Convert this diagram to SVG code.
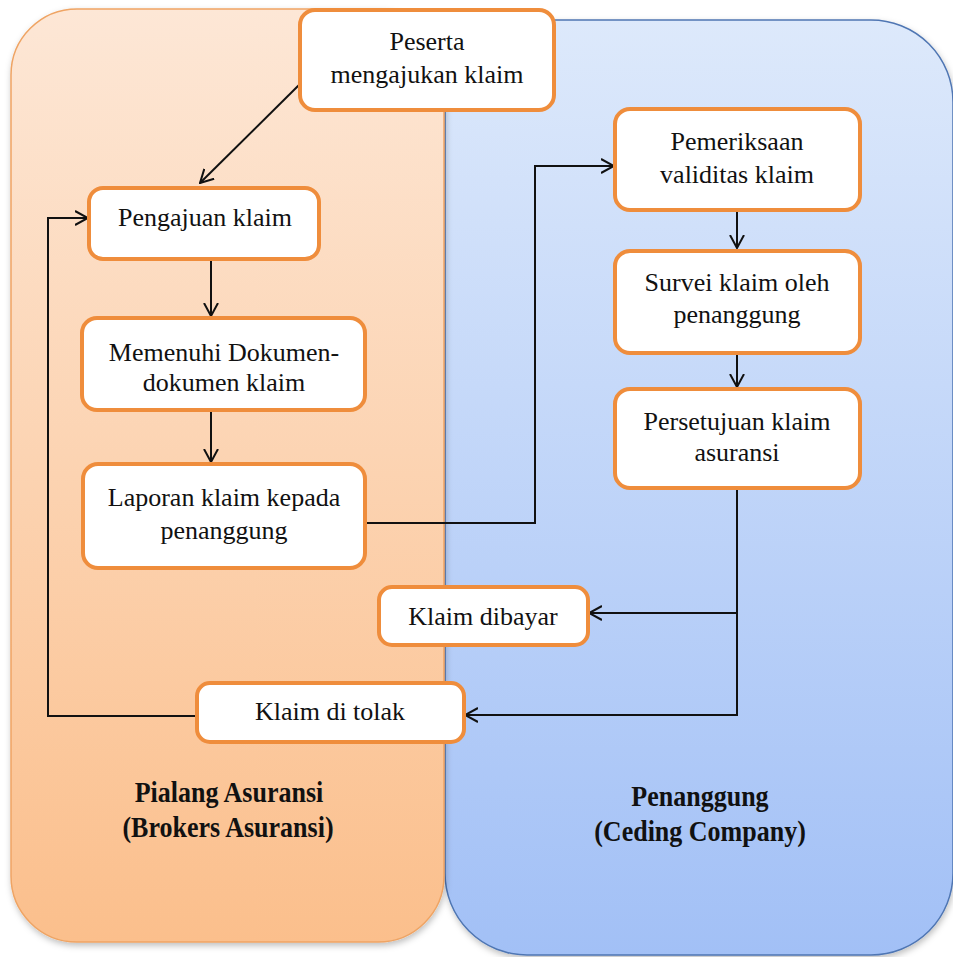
<svg xmlns="http://www.w3.org/2000/svg" width="953" height="957" viewBox="0 0 953 957">
<defs>
<linearGradient id="gOr" x1="0" y1="0" x2="0" y2="1">
<stop offset="0" stop-color="#FDE7D6"/>
<stop offset="1" stop-color="#FBBF8C"/>
</linearGradient>
<linearGradient id="gBl" x1="0" y1="0" x2="0" y2="1">
<stop offset="0" stop-color="#DDE9FB"/>
<stop offset="1" stop-color="#A2C0F6"/>
</linearGradient>
<filter id="sh" x="-5%" y="-5%" width="112%" height="112%">
<feDropShadow dx="1" dy="3" stdDeviation="3" flood-color="#000" flood-opacity="0.25"/>
</filter>
<marker id="arr" viewBox="0 0 14 16" refX="13" refY="8" markerWidth="14" markerHeight="16" orient="auto" markerUnits="userSpaceOnUse">
<path d="M0,1 L13,8 L0,15" fill="none" stroke="#111" stroke-width="2"/>
</marker>
</defs>
<style>
.box{fill:#FFFFFF;stroke:#EF8D3C;stroke-width:4}
.t{font-family:"Liberation Serif","Times New Roman",serif;font-size:26px;fill:#111;text-anchor:middle}
.lbl{font-family:"Liberation Serif","Times New Roman",serif;font-size:26px;font-weight:bold;fill:#111;text-anchor:middle}
.c{fill:none;stroke:#111;stroke-width:2}
</style>
<rect width="953" height="957" fill="#FFFFFF"/>
<g id="panel-penanggung">
<rect x="445" y="20" width="508" height="935" rx="82" fill="url(#gBl)" stroke="#4F76B3" stroke-width="1.5" filter="url(#sh)"/>
<text class="lbl" transform="translate(700,806) scale(1,1.1)">Penanggung</text>
<text class="lbl" transform="translate(700,841) scale(1,1.1)">(Ceding Company)</text>
</g>
<g id="panel-pialang">
<rect x="11" y="9" width="433" height="933" rx="66" fill="url(#gOr)" stroke="#EFA464" stroke-width="1.5" filter="url(#sh)"/>
<text class="lbl" transform="translate(229,802) scale(1,1.1)">Pialang Asuransi</text>
<text class="lbl" transform="translate(228,837) scale(1,1.1)">(Brokers Asuransi)</text>
</g>
<g id="connectors">
<path class="c" d="M300,84 L200,183" marker-end="url(#arr)"/>
<path class="c" d="M211,259 L211,316" marker-end="url(#arr)"/>
<path class="c" d="M211,410 L211,462" marker-end="url(#arr)"/>
<path class="c" d="M365,523 L535,523 L535,166 L614,166" marker-end="url(#arr)"/>
<path class="c" d="M737,210 L737,248" marker-end="url(#arr)"/>
<path class="c" d="M737,353 L737,387" marker-end="url(#arr)"/>
<path class="c" d="M737,488 L737,613 L589,613" marker-end="url(#arr)"/>
<path class="c" d="M737,613 L737,715 L465,715" marker-end="url(#arr)"/>
<path class="c" d="M197,716 L48,716 L48,218 L88,218" marker-end="url(#arr)"/>
</g>
<g id="peserta">
<rect class="box" x="300" y="10" width="254" height="100" rx="15"/>
<text class="t" x="427" y="50">Peserta</text>
<text class="t" x="427" y="83">mengajukan klaim</text>
</g>
<g id="pengajuan">
<rect class="box" x="89" y="188" width="230" height="71" rx="14"/>
<text class="t" x="205" y="226">Pengajuan klaim</text>
</g>
<g id="memenuhi">
<rect class="box" x="82" y="318" width="283" height="92" rx="15"/>
<text class="t" x="224" y="361">Memenuhi Dokumen-</text>
<text class="t" x="224" y="391">dokumen klaim</text>
</g>
<g id="laporan">
<rect class="box" x="83" y="464" width="282" height="104" rx="15"/>
<text class="t" x="224" y="506">Laporan klaim kepada</text>
<text class="t" x="224" y="539">penanggung</text>
</g>
<g id="pemeriksaan">
<rect class="box" x="615" y="109" width="245" height="101" rx="15"/>
<text class="t" x="737" y="150">Pemeriksaan</text>
<text class="t" x="737" y="183">validitas klaim</text>
</g>
<g id="survei">
<rect class="box" x="615" y="251" width="245" height="102" rx="15"/>
<text class="t" x="737" y="291">Survei klaim oleh</text>
<text class="t" x="737" y="323">penanggung</text>
</g>
<g id="persetujuan">
<rect class="box" x="615" y="389" width="245" height="99" rx="15"/>
<text class="t" x="737" y="430">Persetujuan klaim</text>
<text class="t" x="737" y="461">asuransi</text>
</g>
<g id="dibayar">
<rect class="box" x="379" y="587" width="209" height="58" rx="13"/>
<text class="t" x="483" y="625">Klaim dibayar</text>
</g>
<g id="ditolak">
<rect class="box" x="197" y="683" width="267" height="59" rx="13"/>
<text class="t" x="330" y="720">Klaim di tolak</text>
</g>
</svg>
